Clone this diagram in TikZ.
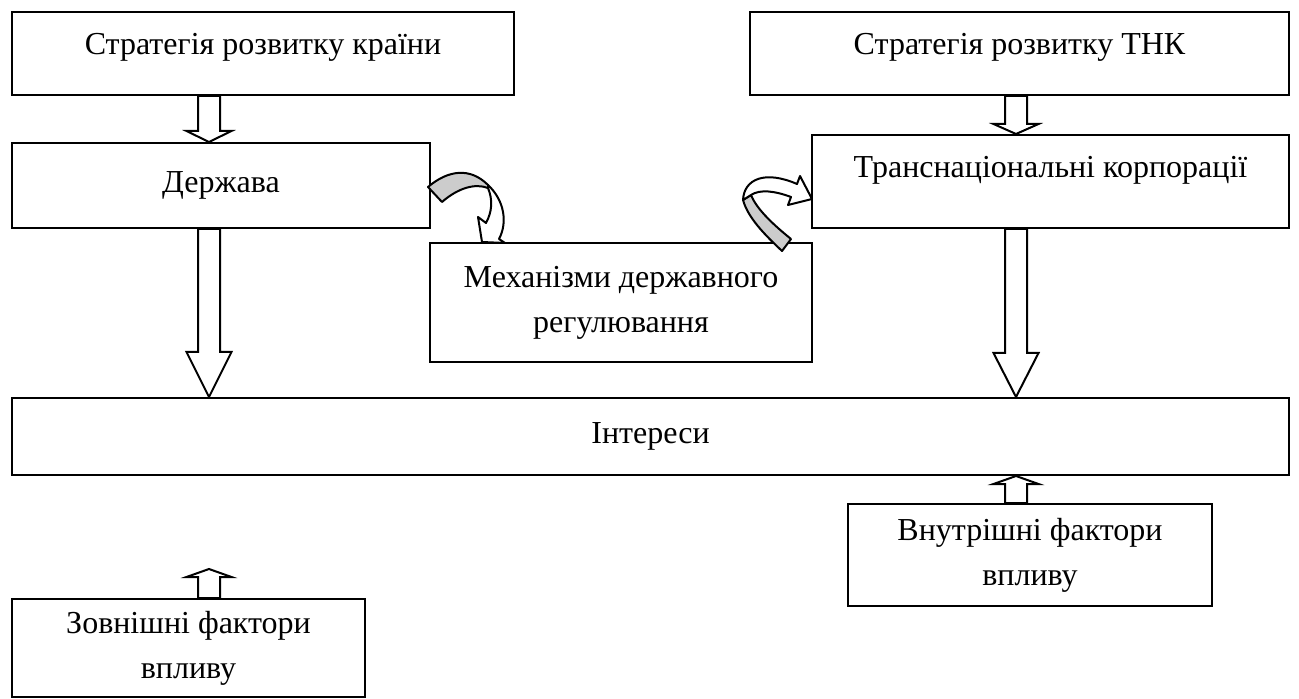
\documentclass[tikz,border=0pt]{standalone}
\usepackage{fontspec}
\setmainfont{Liberation Serif}
\usetikzlibrary{calc}
\tikzset{
    box/.style={draw,line width=1pt,inner sep=0pt,align=center,font=\fontsize{16}{22.5}\selectfont},
    blockarrow/.style={draw,fill=white,line width=1pt,line join=miter},
    bendarrow/.style={draw,line width=1pt,line join=round},
}
% hollow block arrow: from, to, head length
\newcommand{\hollowarrow}[3]{%
    \coordinate (hb) at ($(#2)!#3!(#1)$);
    \draw[blockarrow] ($(#1)!5.5pt!90:(#2)$) -- ($(hb)!5.5pt!90:(#2)$)
        -- ($(hb)!11.25pt!90:(#2)$) -- (#2) -- ($(hb)!11.25pt!-90:(#2)$)
        -- ($(hb)!5.5pt!-90:(#2)$) -- ($(#1)!5.5pt!-90:(#2)$) -- cycle;
}
\begin{document}
\begin{tikzpicture}[x=0.5pt,y=-0.5pt]
    \useasboundingbox (0,0) rectangle (1299,699);
    \node[box,minimum width=251pt,minimum height=41.5pt,text height=11pt,text depth=9.5pt] (strat1) at (263,53.5) {Стратегія розвитку країни};
    \node[box,minimum width=269.5pt,minimum height=41.5pt,text height=11pt,text depth=9.5pt] (strat2) at (1019.5,53.5) {Стратегія розвитку ТНК};
    \node[box,minimum width=209pt,minimum height=42.5pt] (derzh) at (221,185.5) {Держава};
    \node[box,minimum width=238.5pt,minimum height=46.5pt,text height=11pt,text depth=14.5pt] (tnk) at (1050.5,181.5) {Транснаціональні корпорації};
    \node[box,minimum width=191pt,minimum height=59.5pt] (mech) at (621,302.5) {Механізми державного\\регулювання};
    \node[box,minimum width=638.5pt,minimum height=38.5pt] (inter) at (650.5,436.5) {Інтереси};
    \node[box,minimum width=182pt,minimum height=51pt] (vnutr) at (1030,555) {Внутрішні фактори\\впливу};
    \node[box,minimum width=176.5pt,minimum height=49pt] (zovn) at (188.5,648) {Зовнішні фактори\\впливу};

    \coordinate (lcol) at (209,0);
    \coordinate (rcol) at (1016,0);
    \coordinate (zovntip) at (209,569);
    \coordinate (a1) at (strat1.south -| lcol);
    \coordinate (b1) at (derzh.north -| lcol);
    \coordinate (a2) at (derzh.south -| lcol);
    \coordinate (b2) at (inter.north -| lcol);
    \coordinate (a3) at (strat2.south -| rcol);
    \coordinate (b3) at (tnk.north -| rcol);
    \coordinate (a4) at (tnk.south -| rcol);
    \coordinate (b4) at (inter.north -| rcol);
    \coordinate (a5) at (vnutr.north -| rcol);
    \coordinate (b5) at (inter.south -| rcol);
    \coordinate (a6) at (zovn.north -| lcol);

    \hollowarrow{a1}{b1}{5.5pt}
    \hollowarrow{a2}{b2}{22.5pt}
    \hollowarrow{a3}{b3}{5pt}
    \hollowarrow{a4}{b4}{22pt}
    \hollowarrow{a5}{b5}{4pt}
    \hollowarrow{a6}{zovntip}{4pt}

    % curved arrows
    \filldraw[bendarrow,fill=gray!40] (428,187) .. controls (448,170) and (470,167) .. (488,185)
        -- (488,188) .. controls (475,183) and (458,188) .. (442,202) -- cycle;
    \filldraw[bendarrow,fill=white] (488,185) .. controls (504,200) and (508,222) .. (499,239)
        -- (505,243) -- (482,242) -- (478,217) -- (486,223)
        .. controls (492,212) and (493,200) .. (488,188) -- cycle;
    \filldraw[bendarrow,fill=gray!40] (782,251) .. controls (765,235) and (748,218) .. (743,200)
        -- (751,195) .. controls (757,210) and (775,226) .. (791,239) -- cycle;
    \filldraw[bendarrow,fill=white] (743,200) .. controls (744,179) and (765,170) .. (797,184)
        -- (800,176) -- (812,199) -- (788,205) -- (791,197)
        .. controls (775,191) and (760,189) .. (751,195) -- cycle;
\end{tikzpicture}
\end{document}
